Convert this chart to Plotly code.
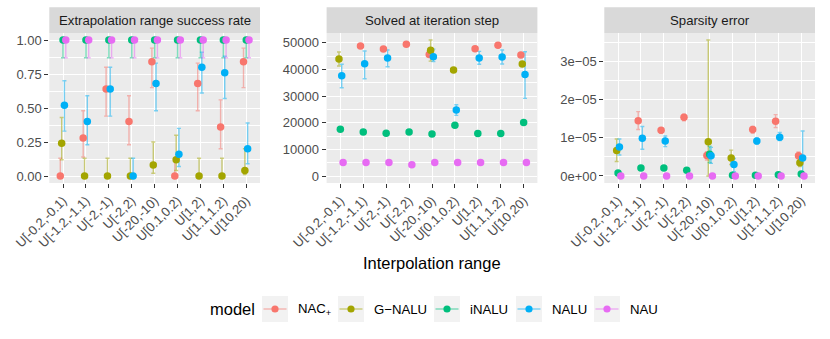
import plotly.graph_objects as go
from plotly.subplots import make_subplots

categories = ["U[-0.2,-0.1)", "U[-1.2,-1.1)", "U[-2,-1)", "U[-2,2)", "U[-20,-10)",
              "U[0.1,0.2)", "U[1,2)", "U[1.1,1.2)", "U[10,20)"]
models = ["NAC+", "G-NALU", "iNALU", "NALU", "NAU"]
labels = ["NAC<sub>+</sub>", "G−NALU", "iNALU", "NALU", "NAU"]
colors = ["#F8766D", "#A3A500", "#00BF7D", "#00B0F6", "#E76BF3"]
N = None

# extrapolation range success rate
success = {
    "NAC+":   [0, 0.28, 0.64, 0.40, 0.84, 0, 0.68, 0.36, 0.84],
    "G-NALU": [0.24, 0, 0, 0, 0.08, 0.12, 0, 0, 0.04],
    "iNALU":  [1, 1, 1, 1, 1, 1, 1, 1, 1],
    "NALU":   [0.52, 0.40, 0.64, 0, 0.68, 0.16, 0.80, 0.76, 0.20],
    "NAU":    [1, 1, 1, 1, 1, 1, 1, 1, 1],
}
success_lo = {
    "NAC+":   [0, 0.14, 0.44, 0.23, 0.65, 0, 0.48, 0.20, 0.65],
    "G-NALU": [0.12, 0, 0, 0, 0.02, 0.04, 0, 0, 0.01],
    "iNALU":  [0.87] * 9,
    "NALU":   [0.33, 0.23, 0.44, 0, 0.48, 0.07, 0.61, 0.57, 0.09],
    "NAU":    [0.87] * 9,
}
success_hi = {
    "NAC+":   [0.13, 0.48, 0.80, 0.59, 0.94, 0.13, 0.83, 0.56, 0.94],
    "G-NALU": [0.43, 0.13, 0.13, 0.13, 0.25, 0.30, 0.13, 0.13, 0.20],
    "iNALU":  [1] * 9,
    "NALU":   [0.70, 0.59, 0.80, 0.13, 0.83, 0.35, 0.91, 0.88, 0.39],
    "NAU":    [1] * 9,
}

# solved at iteration step
solved = {
    "NAC+":   [N, 48750, 47600, 49400, 45600, N, 47750, 49000, 45400],
    "G-NALU": [43900, N, N, N, 47200, 39750, N, N, 42000],
    "iNALU":  [17500, 16500, 16000, 16500, 15750, 19000, 15900, 15900, 20100],
    "NALU":   [37600, 42100, 44250, N, 44750, 24750, 44250, 44600, 38100],
    "NAU":    [5100, 5100, 5100, 4250, 5100, 5100, 5100, 5100, 5100],
}
solved_lo = {
    "NAC+":   [N] * 9,
    "G-NALU": [41250, N, N, N, 43100, N, N, N, N],
    "iNALU":  [N] * 9,
    "NALU":   [33100, 36500, 41000, N, 42900, 22750, 41900, 42000, 29100],
    "NAU":    [N] * 9,
}
solved_hi = {
    "NAC+":   [N] * 9,
    "G-NALU": [46500, N, N, N, 51000, N, N, N, N],
    "iNALU":  [N] * 9,
    "NALU":   [41900, 46900, 47250, N, 47600, 26750, 46750, 47250, 46600],
    "NAU":    [N] * 9,
}

# sparsity error (units of 1e-5)
sparsity = {
    "NAC+":   [N, 1.45, 1.20, 1.54, 0.54, N, 1.22, 1.44, 0.53],
    "G-NALU": [0.67, N, N, N, 0.90, 0.47, N, N, 0.35],
    "iNALU":  [0.08, 0.21, 0.21, 0.15, 0.57, 0.02, 0.02, 0.035, 0.05],
    "NALU":   [0.76, 0.99, 0.92, N, 0.53, 0.30, 0.92, 1.02, 0.47],
    "NAU":    [0, 0, 0, 0, 0, 0, 0, 0, 0],
}
sparsity_lo = {
    "NAC+":   [N, 1.22, 1.12, 1.45, 0.42, N, 1.12, 1.27, 0.46],
    "G-NALU": [0.38, N, N, N, 0, 0.30, N, N, 0.25],
    "iNALU":  [N, N, N, N, 0.35, N, N, N, N],
    "NALU":   [0.55, 0.70, 0.77, N, 0.33, 0.11, 0.84, 0.93, 0.05],
    "NAU":    [N] * 9,
}
sparsity_hi = {
    "NAC+":   [N, 1.69, 1.27, 1.62, 0.64, N, 1.30, 1.61, 0.63],
    "G-NALU": [0.97, N, N, N, 3.57, 0.68, N, N, 0.44],
    "iNALU":  [N, N, N, N, 0.78, N, N, N, N],
    "NALU":   [0.97, 1.30, 1.05, N, 0.75, 0.46, 0.99, 1.14, 1.18],
    "NAU":    [N] * 9,
}
scale3 = 1e-5

W, H = 830, 339
def px(x):
    return x / W
def py(y):
    return 1 - y / H

fig = make_subplots(rows=1, cols=3)

def rgba(hexc, a):
    h = hexc.lstrip("#")
    return "rgba(%d,%d,%d,%s)" % (int(h[0:2], 16), int(h[2:4], 16), int(h[4:6], 16), a)

panels = [(success, success_lo, success_hi, 1),
          (solved, solved_lo, solved_hi, 1),
          (sparsity, sparsity_lo, sparsity_hi, scale3)]

offsets = [0.3 * ((k + 0.5) / 5 - 0.5) for k in range(5)]

for col, (val, lo, hi, sc) in enumerate(panels, start=1):
    # error bars first, underneath all points
    for k, m in enumerate(models):
        xs, ys, up, dn = [], [], [], []
        for i in range(9):
            if val[m][i] is None or lo[m][i] is None:
                continue
            xs.append(i + 1 + offsets[k])
            ys.append(val[m][i] * sc)
            up.append((hi[m][i] - val[m][i]) * sc)
            dn.append((val[m][i] - lo[m][i]) * sc)
        fig.add_trace(go.Scatter(
            x=xs, y=ys, mode="markers", marker=dict(size=1, opacity=0),
            error_y=dict(type="data", symmetric=False, array=up, arrayminus=dn,
                         color=rgba(colors[k], 0.5), thickness=1.4, width=2),
            showlegend=False, hoverinfo="skip"), row=1, col=col)
    for k, m in enumerate(models):
        xs, ys = [], []
        for i in range(9):
            if val[m][i] is None:
                continue
            xs.append(i + 1 + offsets[k])
            ys.append(val[m][i] * sc)
        fig.add_trace(go.Scatter(
            x=xs, y=ys, mode="markers", name=m,
            marker=dict(size=7.5, color=colors[k], line=dict(width=0)),
            showlegend=False), row=1, col=col)

tickfont = dict(family="Liberation Sans, Arial", size=13, color="#4D4D4D")
xdoms = [(49.3, 260.0), (326.6, 537.4), (604.3, 815.0)]
ydom = [py(183), py(33)]
for c in range(3):
    fig.update_xaxes(domain=[px(xdoms[c][0]), px(xdoms[c][1])], range=[0.4, 9.6],
                     tickvals=list(range(1, 10)), ticktext=categories, tickangle=-45,
                     ticks="outside", ticklen=4, tickcolor="#333333", tickwidth=1,
                     showgrid=True, gridcolor="white", gridwidth=1.1, zeroline=False,
                     showline=False, tickfont=tickfont, automargin=False, row=1, col=c + 1)

fig.update_yaxes(domain=ydom, range=[-0.0515, 1.0515],
                 tickvals=[0, 0.25, 0.5, 0.75, 1.0], ticktext=["0.00", "0.25", "0.50", "0.75", "1.00"],
                 minor=dict(tickvals=[0.125, 0.375, 0.625, 0.875], showgrid=True,
                            gridcolor="white", gridwidth=0.55, ticks=""),
                 row=1, col=1)
fig.update_yaxes(domain=ydom, range=[-2626, 53640],
                 tickvals=[0, 10000, 20000, 30000, 40000, 50000],
                 ticktext=["0", "10000", "20000", "30000", "40000", "50000"],
                 minor=dict(tickvals=[5000, 15000, 25000, 35000, 45000], showgrid=True,
                            gridcolor="white", gridwidth=0.55, ticks=""),
                 row=1, col=2)
fig.update_yaxes(domain=ydom, range=[-0.184e-5, 3.753e-5],
                 tickvals=[0, 1e-5, 2e-5, 3e-5], ticktext=["0e+00", "1e−05", "2e−05", "3e−05"],
                 minor=dict(tickvals=[0.5e-5, 1.5e-5, 2.5e-5, 3.5e-5], showgrid=True,
                            gridcolor="white", gridwidth=0.55, ticks=""),
                 row=1, col=3)
fig.update_yaxes(ticks="outside", ticklen=4, tickcolor="#333333", tickwidth=1,
                 showgrid=True, gridcolor="white", gridwidth=1.1, zeroline=False,
                 showline=False, tickfont=tickfont, automargin=False)

shapes = []
annotations = []
strip_titles = ["Extrapolation range success rate", "Solved at iteration step", "Sparsity error"]
for c in range(3):
    x0, x1 = xdoms[c]
    shapes.append(dict(type="rect", xref="paper", yref="paper", x0=px(x0), x1=px(x1),
                       y0=py(33), y1=py(7.3), fillcolor="#D9D9D9", line=dict(width=0),
                       layer="below"))
    annotations.append(dict(text=strip_titles[c], xref="paper", yref="paper",
                            x=px((x0 + x1) / 2), y=py(20.2), showarrow=False,
                            xanchor="center", yanchor="middle",
                            font=dict(family="Liberation Sans, Arial", size=13.2, color="#1A1A1A")))

annotations.append(dict(text="Interpolation range", xref="paper", yref="paper",
                        x=px(432), y=py(263), showarrow=False, xanchor="center", yanchor="middle",
                        font=dict(family="Liberation Sans, Arial", size=16.5, color="black")))

# legend drawn by hand, ggplot style
annotations.append(dict(text="model", xref="paper", yref="paper", x=px(208), y=py(309),
                        showarrow=False, xanchor="left", yanchor="middle",
                        font=dict(family="Liberation Sans, Arial", size=16.5, color="black")))
key_x = [262, 338, 434, 516, 594]
for k in range(5):
    kx = key_x[k]
    shapes.append(dict(type="rect", xref="paper", yref="paper", x0=px(kx), x1=px(kx + 26),
                       y0=py(322), y1=py(296), fillcolor="#F2F2F2", line=dict(width=0)))
    shapes.append(dict(type="line", xref="paper", yref="paper", x0=px(kx + 1.5), x1=px(kx + 24.5),
                       y0=py(309), y1=py(309), line=dict(color=rgba(colors[k], 0.5), width=1.4)))
    shapes.append(dict(type="circle", xref="paper", yref="paper", xsizemode="pixel",
                       ysizemode="pixel", xanchor=px(kx + 13), yanchor=py(309),
                       x0=-3.6, x1=3.6, y0=-3.6, y1=3.6, fillcolor=colors[k],
                       line=dict(width=0)))
    annotations.append(dict(text=labels[k], xref="paper", yref="paper", x=px(kx + 34), y=py(309),
                            showarrow=False, xanchor="left", yanchor="middle",
                            font=dict(family="Liberation Sans, Arial", size=13.2, color="black")))

fig.update_layout(width=W, height=H, margin=dict(l=0, r=0, t=0, b=0),
                  plot_bgcolor="#EBEBEB", paper_bgcolor="white",
                  shapes=shapes, annotations=annotations, showlegend=False,
                  font=dict(family="Liberation Sans, Arial"))

# drop the browser's default 8px body margin so the figure sits at the page corner
fig.write_html("out.html", config={"displayModeBar": False},
               post_script="document.body.style.margin='0';")
